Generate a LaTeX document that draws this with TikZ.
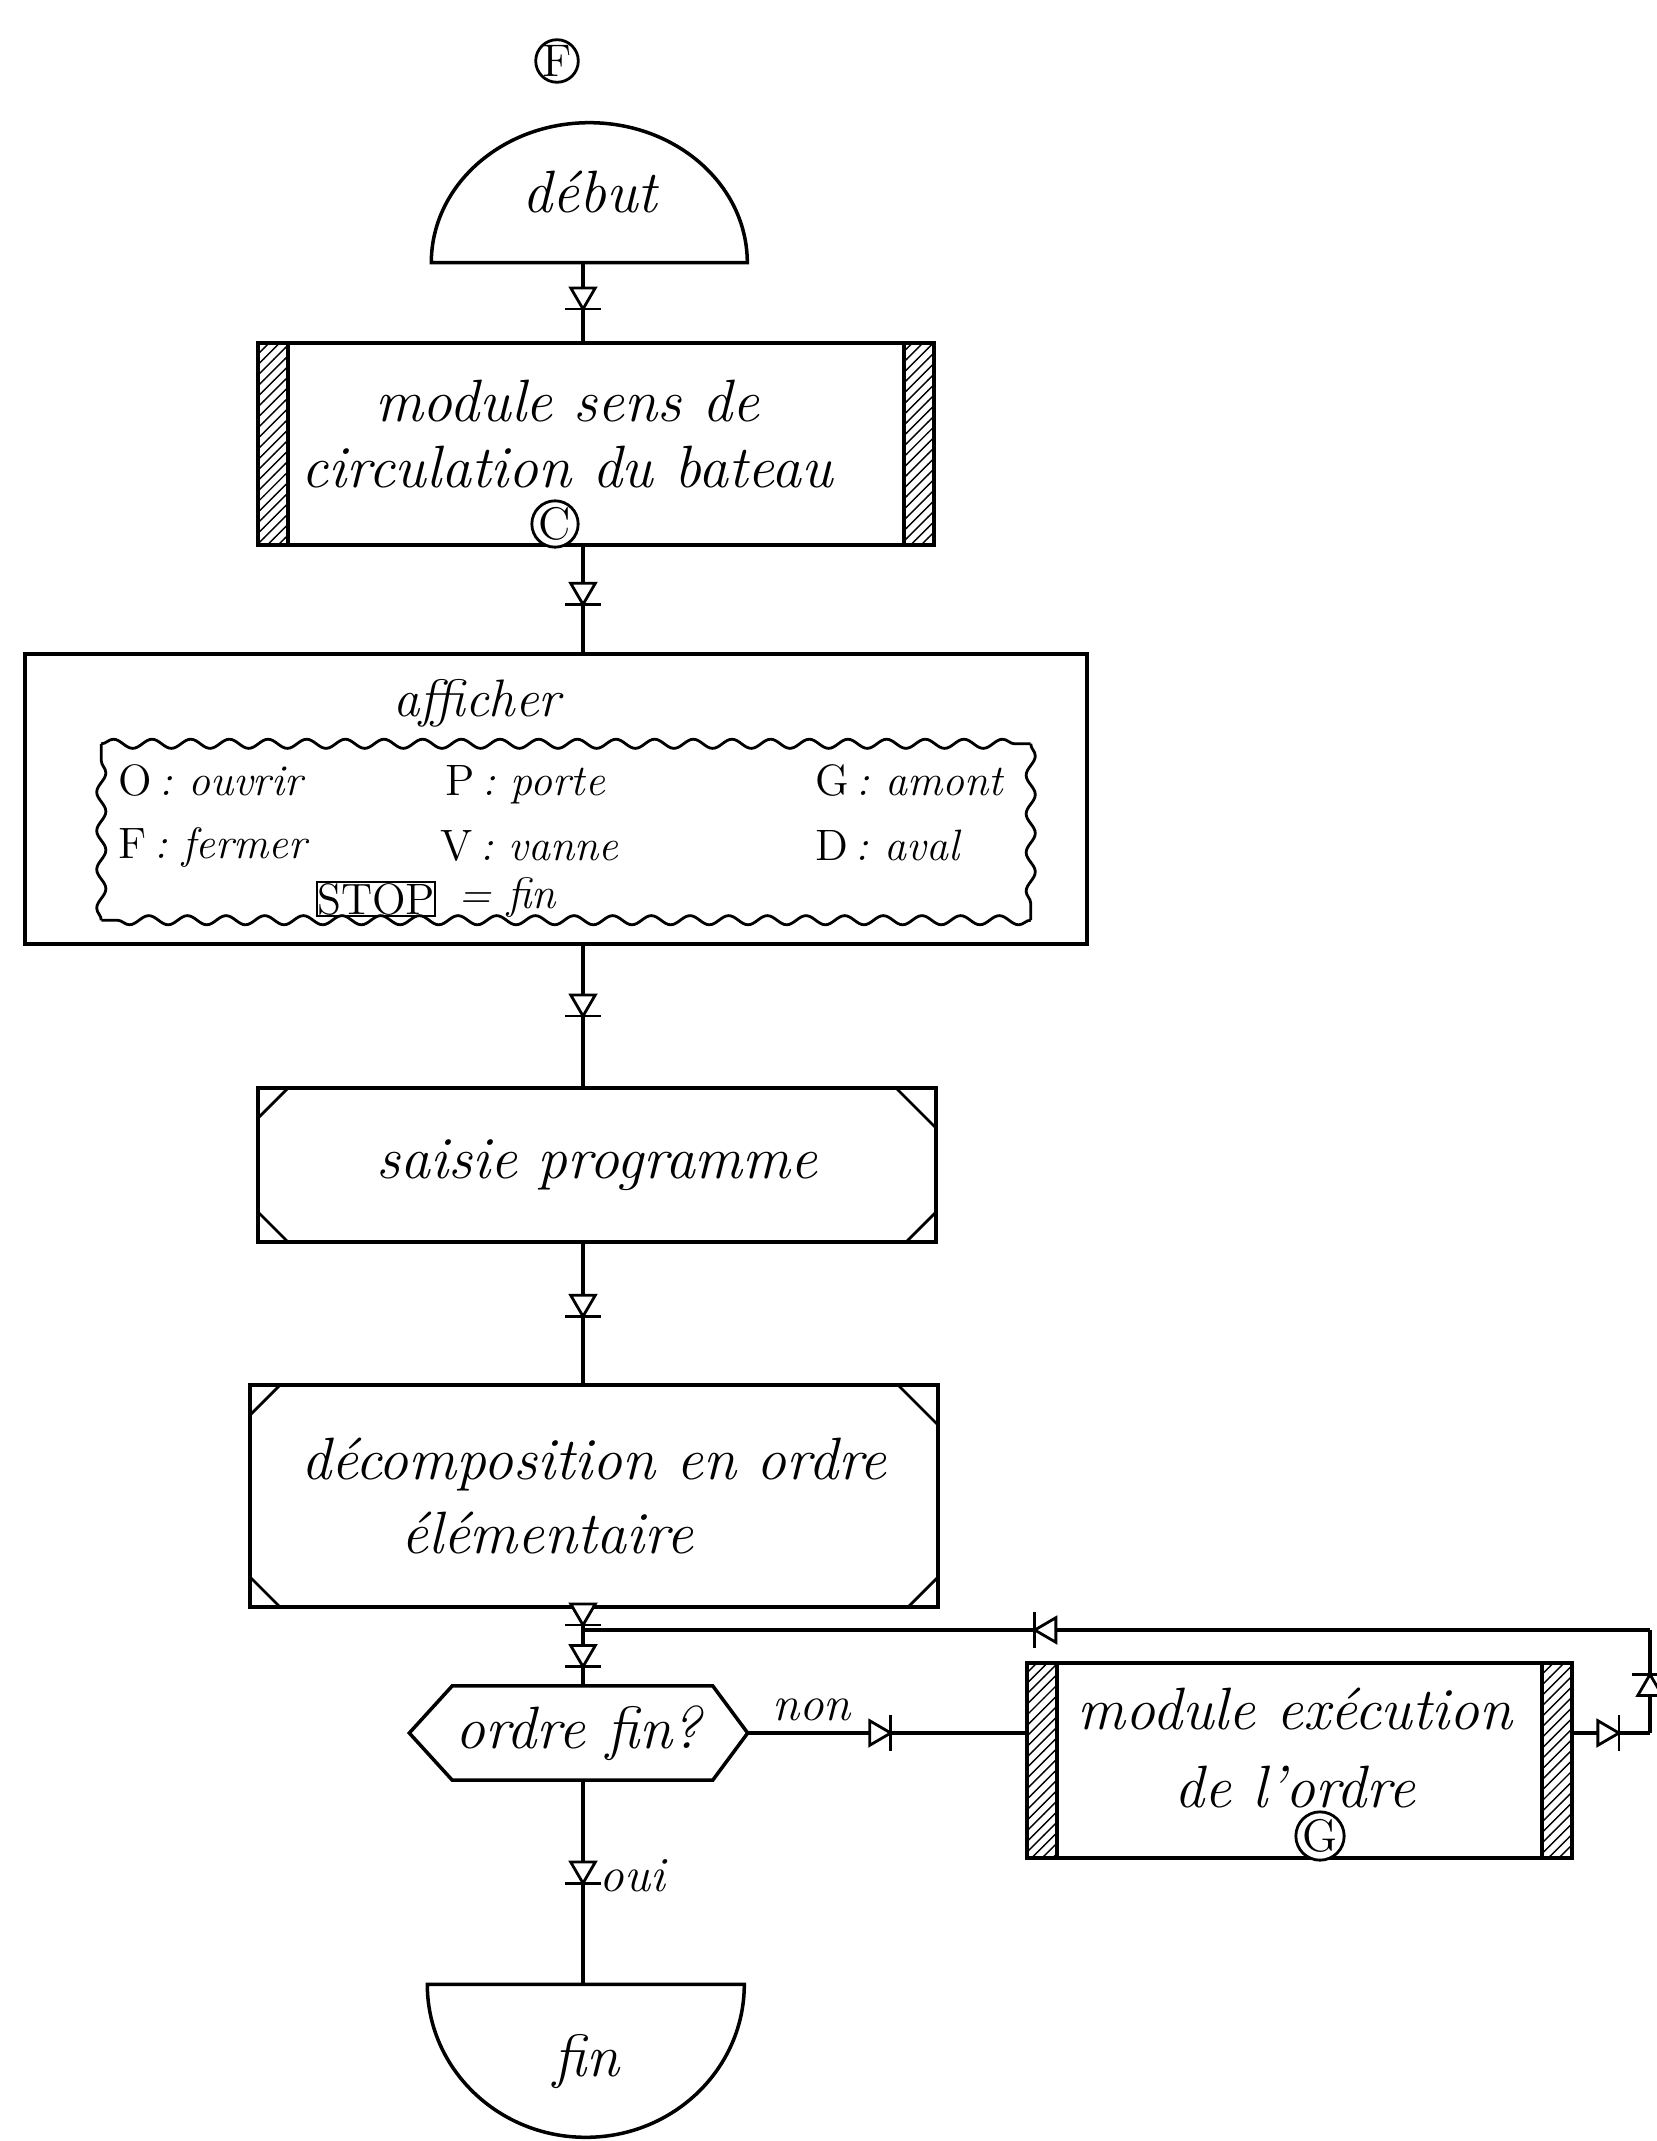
\documentclass[tikz,border=0pt]{standalone}
\usepackage{fontspec}
\usetikzlibrary{decorations.markings,decorations.pathmorphing,patterns}

\tikzset{
  hand/.style={font=\fontsize{17}{21}\selectfont\itshape},
  smallhand/.style={font=\fontsize{12.5}{15}\selectfont\itshape},
  box/.style={draw,line width=1pt,rectangle,hand,align=center,inner sep=0pt},
  modulebox/.style={box,path picture={
      \fill[pattern=north east lines] (path picture bounding box.north west) rectangle ([xshift=3mm]path picture bounding box.south west);
      \fill[pattern=north east lines] ([xshift=-3mm]path picture bounding box.north east) rectangle (path picture bounding box.south east);
      \draw[line width=1pt] ([xshift=3mm]path picture bounding box.north west) -- ([xshift=3mm]path picture bounding box.south west);
      \draw[line width=1pt] ([xshift=-3mm]path picture bounding box.north east) -- ([xshift=-3mm]path picture bounding box.south east);}},
  cornerbox/.style={box,path picture={
      \draw[thick] (path picture bounding box.north west) ++(3mm,0) -- ++(-3mm,-3mm);
      \draw[thick] (path picture bounding box.north east) ++(-4mm,0) -- ++(4mm,-4mm);
      \draw[thick] (path picture bounding box.south west) ++(3mm,0) -- ++(-3mm,3mm);
      \draw[thick] (path picture bounding box.south east) ++(-3mm,0) -- ++(3mm,3mm);}},
  wavy/.style={thick,decorate,decoration={snake,amplitude=1.3pt,segment length=11pt}},
  refcircle/.style={draw,thick,circle,minimum size=4.2mm,inner sep=0pt,font=\fontsize{13}{13}\selectfont},
  shapebox/.style={inner sep=0pt,hand},
  flow/.style={line width=1pt},
  flowmark/.style={postaction={decorate,decoration={markings,mark=at position #1 with {
      \draw[thick,fill=white] (-4pt,-3.5pt) -- (2pt,0pt) -- (-4pt,3.5pt) -- cycle;
      \draw[thick] (2pt,-5pt) -- (2pt,5pt);}}}},
  flowmark/.default=0.5
}

\begin{document}
\begin{tikzpicture}[x=0.1mm,y=-0.1mm]
    \useasboundingbox (0,0) rectangle (1656,2141);
    % Shapes
    \node[refcircle] (refF) at (557,61) {F};
    \node[shapebox,minimum width=31.6mm,minimum height=14mm] (debut) at (590,192) {début};
    \draw[flow] (debut.south west) arc[start angle=180,end angle=0,x radius=15.8mm,y radius=14mm] -- cycle;
    \node[modulebox,minimum width=67.6mm,minimum height=20.2mm] (module) at (596,444) {};
    \node[hand,align=center,font=\fontsize{17}{19}\selectfont\itshape] (module-txt) at (567,434) {module sens de\\circulation du bateau};
    \node[refcircle,fill=white] (refC) at (555,524) {C};
    \node[box,minimum width=106.2mm,minimum height=29mm] (affiche) at (556,799) {};
    \node[cornerbox,minimum width=67.8mm,minimum height=15.4mm] (saisie) at (597,1165) {saisie programme};
    \node[cornerbox,align=left,minimum width=68.8mm,minimum height=22.2mm] (decomp) at (594,1496) {décomposition en ordre\\\hspace*{10mm}élémentaire};
    \node[shapebox,minimum width=33.7mm,minimum height=9.3mm] (ordrefin) at (578.5,1733) {ordre fin?};
    \draw[flow] (ordrefin.west) -- ([xshift=4.3mm]ordrefin.north west) -- ([xshift=-3.5mm]ordrefin.north east) -- (ordrefin.east)
      -- ([xshift=-3.5mm]ordrefin.south east) -- ([xshift=4.3mm]ordrefin.south west) -- cycle;
    \node[modulebox,minimum width=54.5mm,minimum height=19.5mm] (exec) at (1299.5,1760.5) {};
    \node[hand,align=center,font=\fontsize{17}{22}\selectfont\itshape] (exec-txt) at (1295,1748) {module exécution\\de l'ordre};
    \node[refcircle,fill=white] (refG) at (1320,1836) {G};
    \node[shapebox,minimum width=31.7mm,minimum height=15.3mm] (fin) at (586.5,2061.5) {fin};
    \draw[flow] (fin.north west) arc[start angle=180,end angle=360,x radius=15.85mm,y radius=15.3mm] -- cycle;
    % Display contents
    \node[font=\fontsize{15}{18}\selectfont\itshape] (titre) at (477,703) {afficher};
    \node[minimum width=92.8mm,minimum height=17.5mm,inner sep=0pt] (legende) at (566,832) {};
    \draw[wavy] (legende.north west) -- (legende.north east);
    \draw[wavy] (legende.north east) -- (legende.south east);
    \draw[wavy] (legende.south east) -- (legende.south west);
    \draw[wavy] (legende.south west) -- (legende.north west);
    \foreach \key/\word/\px/\py in {O/ouvrir/118/795,P/porte/445/795,G/amont/815/795,
                                    F/fermer/118/858,V/vanne/440/860,D/aval/815/860} {
      \node[smallhand,anchor=base west,inner sep=0pt] (leg-\key) at (\px,\py) {{\upshape\key}\,:\ \word};
    }
    \node[draw,thick,font=\fontsize{12.5}{15}\selectfont,inner sep=0pt,minimum width=11.8mm,minimum height=3.4mm] (stop) at (376,899) {STOP};
    \node[smallhand,anchor=base west,inner sep=0pt] (stop-fin) at (458,908) {= fin};
    % Connectors
    \coordinate (spine) at (583,0);
    \coordinate (join) at (583,1630);
    \coordinate (loop-se) at (1650,1733);
    \coordinate (loop-ne) at (1650,1630);
    \draw[flow,flowmark=0.5] (debut.south -| spine) -- (module.north -| spine);
    \draw[flow,flowmark=0.48] (module.south -| spine) -- (affiche.north -| spine);
    \draw[flow,flowmark=0.45] (affiche.south -| spine) -- (saisie.north -| spine);
    \draw[flow,flowmark=0.47] (saisie.south -| spine) -- (decomp.north -| spine);
    \draw[flow,flowmark=0.12,flowmark=0.66] (decomp.south -| spine) -- (ordrefin.north -| spine);
    \draw[flow,flowmark=0.47] (ordrefin.south -| spine) -- node[pos=0.47,right,xshift=1.5mm,inner sep=0pt,font=\fontsize{14}{16}\selectfont\itshape] {oui} (fin.north -| spine);
    \draw[flow,flowmark=0.49] (ordrefin.east) -- node[pos=0.23,above,inner sep=3pt,font=\fontsize{14}{16}\selectfont\itshape] {non} (ordrefin.east -| exec.west);
    % Return loop
    \draw[flow,flowmark=0.5] (loop-se -| exec.east) -- (loop-se);
    \draw[flow,flowmark=0.5] (loop-se) -- (loop-ne);
    \draw[flow,flowmark=0.57] (loop-ne) -- (join);
  \end{tikzpicture}
\end{document}
